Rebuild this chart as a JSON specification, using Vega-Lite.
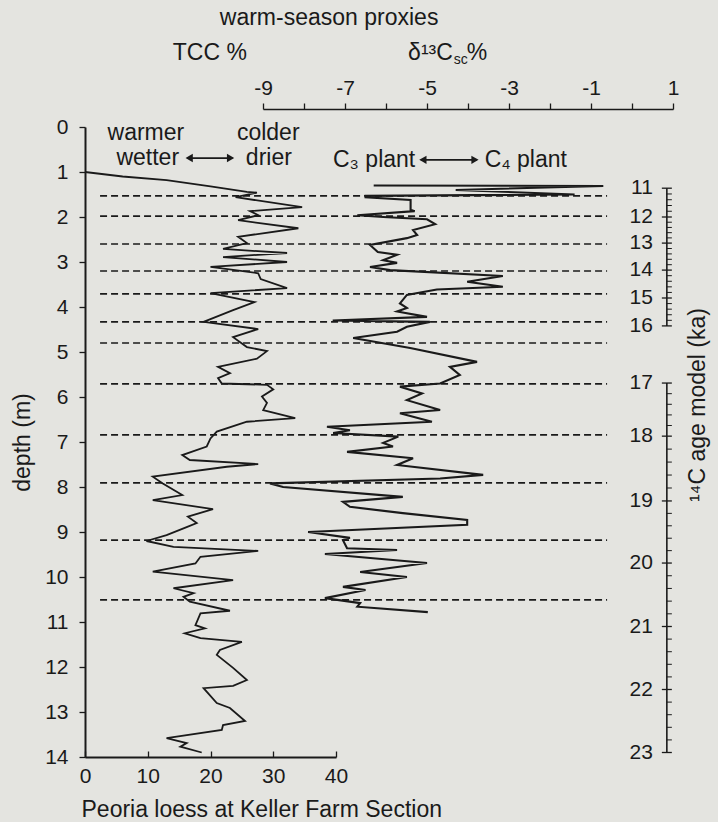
{
  "$schema": "https://vega.github.io/schema/vega-lite/v6.json",
  "autosize": "none",
  "width": 633,
  "height": 630,
  "padding": {"left": 85, "top": 127, "right": 0, "bottom": 65},
  "background": "#e4e4e0",
  "config": {
    "view": {"stroke": null},
    "font": "Liberation Sans",
    "axis": {"labelFont": "Liberation Sans", "titleFont": "Liberation Sans", "labelColor": "#1a1a1a", "titleColor": "#1a1a1a", "domainColor": "#1a1a1a", "tickColor": "#1a1a1a", "grid": false, "labelFontSize": 21, "titleFontSize": 23, "titleFontWeight": "normal", "domainWidth": 1.6, "tickWidth": 1.3, "labelFlush": false, "labelOverlap": false},
    "text": {"font": "Liberation Sans", "fontSize": 23, "color": "#1a1a1a"}
  },
  "datasets": {
    "tcc": [
      {"tcc": 0, "depth": 1.0}, {"tcc": 6, "depth": 1.1}, {"tcc": 13, "depth": 1.18}, {"tcc": 20, "depth": 1.32}, {"tcc": 25.8, "depth": 1.44}, {"tcc": 27.4, "depth": 1.46}, {"tcc": 24, "depth": 1.56}, {"tcc": 34.6, "depth": 1.78}, {"tcc": 26.3, "depth": 1.87}, {"tcc": 27.6, "depth": 1.96}, {"tcc": 24.4, "depth": 2.07}, {"tcc": 34, "depth": 2.25}, {"tcc": 24.4, "depth": 2.44}, {"tcc": 25.8, "depth": 2.58}, {"tcc": 22, "depth": 2.71}, {"tcc": 32.2, "depth": 2.8}, {"tcc": 22, "depth": 2.89}, {"tcc": 32.2, "depth": 3.0}, {"tcc": 20, "depth": 3.11}, {"tcc": 27.6, "depth": 3.25}, {"tcc": 28, "depth": 3.38}, {"tcc": 32.2, "depth": 3.58}, {"tcc": 20, "depth": 3.69}, {"tcc": 27, "depth": 3.89}, {"tcc": 23.6, "depth": 4.07}, {"tcc": 18.9, "depth": 4.33}, {"tcc": 27.6, "depth": 4.49}, {"tcc": 23.6, "depth": 4.67}, {"tcc": 25.8, "depth": 4.89}, {"tcc": 29, "depth": 4.98}, {"tcc": 27.4, "depth": 5.15}, {"tcc": 21.2, "depth": 5.33}, {"tcc": 23.1, "depth": 5.47}, {"tcc": 21.2, "depth": 5.58}, {"tcc": 21.8, "depth": 5.7}, {"tcc": 29, "depth": 5.73}, {"tcc": 30, "depth": 5.83}, {"tcc": 28.2, "depth": 5.99}, {"tcc": 29, "depth": 6.13}, {"tcc": 28.4, "depth": 6.29}, {"tcc": 33.5, "depth": 6.47}, {"tcc": 25.8, "depth": 6.55}, {"tcc": 21, "depth": 6.77}, {"tcc": 20, "depth": 6.92}, {"tcc": 19.4, "depth": 7.1}, {"tcc": 15.5, "depth": 7.29}, {"tcc": 16.7, "depth": 7.4}, {"tcc": 27.6, "depth": 7.49}, {"tcc": 22.6, "depth": 7.55}, {"tcc": 10.8, "depth": 7.77}, {"tcc": 12.4, "depth": 7.92}, {"tcc": 15.5, "depth": 8.18}, {"tcc": 10.8, "depth": 8.29}, {"tcc": 20.4, "depth": 8.49}, {"tcc": 16.4, "depth": 8.66}, {"tcc": 17.8, "depth": 8.8}, {"tcc": 16.2, "depth": 8.89}, {"tcc": 13, "depth": 9.07}, {"tcc": 9.8, "depth": 9.2}, {"tcc": 14.1, "depth": 9.33}, {"tcc": 27.6, "depth": 9.42}, {"tcc": 18.4, "depth": 9.55}, {"tcc": 17.6, "depth": 9.7}, {"tcc": 10.8, "depth": 9.88}, {"tcc": 23.6, "depth": 10.07}, {"tcc": 14.1, "depth": 10.25}, {"tcc": 17.3, "depth": 10.36}, {"tcc": 15.7, "depth": 10.44}, {"tcc": 16.7, "depth": 10.55}, {"tcc": 23.1, "depth": 10.75}, {"tcc": 18.4, "depth": 10.81}, {"tcc": 17.6, "depth": 11.07}, {"tcc": 19.1, "depth": 11.14}, {"tcc": 15.9, "depth": 11.25}, {"tcc": 18.4, "depth": 11.36}, {"tcc": 25, "depth": 11.44}, {"tcc": 21.5, "depth": 11.62}, {"tcc": 21, "depth": 11.73}, {"tcc": 23.6, "depth": 12.02}, {"tcc": 25.8, "depth": 12.29}, {"tcc": 23.6, "depth": 12.42}, {"tcc": 18.9, "depth": 12.47}, {"tcc": 21, "depth": 12.8}, {"tcc": 23.1, "depth": 12.91}, {"tcc": 25.5, "depth": 13.2}, {"tcc": 22, "depth": 13.29}, {"tcc": 21.8, "depth": 13.4}, {"tcc": 13, "depth": 13.58}, {"tcc": 16.2, "depth": 13.69}, {"tcc": 15.2, "depth": 13.77}, {"tcc": 18.6, "depth": 13.9}
    ],
    "d13c": [
      {"d13c": -6.3, "depth": 1.30}, {"d13c": -0.7, "depth": 1.31}, {"d13c": -4.3, "depth": 1.40}, {"d13c": -1.4, "depth": 1.50}, {"d13c": -6.5, "depth": 1.53}, {"d13c": -6.5, "depth": 1.56}, {"d13c": -5.4, "depth": 1.62}, {"d13c": -5.4, "depth": 1.84}, {"d13c": -5.3, "depth": 1.87}, {"d13c": -6.7, "depth": 1.96}, {"d13c": -6.07, "depth": 2.0}, {"d13c": -5.0, "depth": 2.05}, {"d13c": -4.8, "depth": 2.16}, {"d13c": -5.34, "depth": 2.29}, {"d13c": -5.24, "depth": 2.4}, {"d13c": -5.49, "depth": 2.47}, {"d13c": -6.39, "depth": 2.62}, {"d13c": -6.2, "depth": 2.78}, {"d13c": -5.73, "depth": 2.84}, {"d13c": -6.07, "depth": 2.96}, {"d13c": -5.73, "depth": 3.02}, {"d13c": -6.39, "depth": 3.11}, {"d13c": -5.9, "depth": 3.18}, {"d13c": -3.15, "depth": 3.31}, {"d13c": -4.02, "depth": 3.44}, {"d13c": -3.15, "depth": 3.55}, {"d13c": -4.76, "depth": 3.61}, {"d13c": -5.49, "depth": 3.73}, {"d13c": -5.66, "depth": 3.92}, {"d13c": -5.49, "depth": 4.02}, {"d13c": -5.73, "depth": 4.1}, {"d13c": -5.0, "depth": 4.22}, {"d13c": -7.3, "depth": 4.3}, {"d13c": -4.93, "depth": 4.33}, {"d13c": -5.49, "depth": 4.44}, {"d13c": -5.73, "depth": 4.55}, {"d13c": -6.8, "depth": 4.69}, {"d13c": -5.41, "depth": 4.91}, {"d13c": -3.78, "depth": 5.22}, {"d13c": -4.44, "depth": 5.33}, {"d13c": -4.2, "depth": 5.51}, {"d13c": -4.68, "depth": 5.7}, {"d13c": -5.66, "depth": 5.77}, {"d13c": -5.12, "depth": 5.92}, {"d13c": -5.49, "depth": 6.07}, {"d13c": -4.68, "depth": 6.29}, {"d13c": -5.66, "depth": 6.36}, {"d13c": -4.88, "depth": 6.55}, {"d13c": -7.44, "depth": 6.66}, {"d13c": -6.88, "depth": 6.74}, {"d13c": -7.29, "depth": 6.8}, {"d13c": -5.7, "depth": 6.88}, {"d13c": -6.07, "depth": 7.02}, {"d13c": -5.83, "depth": 7.1}, {"d13c": -6.95, "depth": 7.22}, {"d13c": -5.34, "depth": 7.36}, {"d13c": -5.73, "depth": 7.51}, {"d13c": -3.63, "depth": 7.73}, {"d13c": -4.68, "depth": 7.81}, {"d13c": -8.83, "depth": 7.92}, {"d13c": -8.51, "depth": 8.0}, {"d13c": -5.59, "depth": 8.22}, {"d13c": -7.05, "depth": 8.33}, {"d13c": -6.88, "depth": 8.44}, {"d13c": -5.59, "depth": 8.58}, {"d13c": -4.02, "depth": 8.73}, {"d13c": -4.02, "depth": 8.84}, {"d13c": -7.9, "depth": 9.0}, {"d13c": -6.88, "depth": 9.13}, {"d13c": -7.05, "depth": 9.18}, {"d13c": -6.95, "depth": 9.36}, {"d13c": -5.73, "depth": 9.4}, {"d13c": -7.49, "depth": 9.49}, {"d13c": -5.0, "depth": 9.69}, {"d13c": -6.63, "depth": 9.89}, {"d13c": -5.49, "depth": 10.0}, {"d13c": -7.05, "depth": 10.22}, {"d13c": -6.5, "depth": 10.29}, {"d13c": -7.49, "depth": 10.47}, {"d13c": -6.63, "depth": 10.58}, {"d13c": -6.7, "depth": 10.66}, {"d13c": -4.98, "depth": 10.78}
    ],
    "dashes": [
      {"depth": 1.53}, {"depth": 1.98}, {"depth": 2.6}, {"depth": 3.2}, {"depth": 3.71}, {"depth": 4.33}, {"depth": 4.8}, {"depth": 5.71}, {"depth": 6.84}, {"depth": 7.91}, {"depth": 9.18}, {"depth": 10.51}
    ],
    "ageSegments": [
      {"top": 1.36, "bottom": 4.42}, {"top": 5.69, "bottom": 13.9}
    ],
    "ageMajor": [
      {"age": 11, "depth": 1.36}, {"age": 12, "depth": 2.0}, {"age": 13, "depth": 2.58}, {"age": 14, "depth": 3.18}, {"age": 15, "depth": 3.8}, {"age": 16, "depth": 4.42}, {"age": 17, "depth": 5.69}, {"age": 18, "depth": 6.87}, {"age": 19, "depth": 8.31}, {"age": 20, "depth": 9.69}, {"age": 21, "depth": 11.1}, {"age": 22, "depth": 12.5}, {"age": 23, "depth": 13.9}
    ],
    "ageMinor": [
      {"depth": 1.488}, {"depth": 1.616}, {"depth": 1.744}, {"depth": 1.872},
      {"depth": 2.116}, {"depth": 2.232}, {"depth": 2.348}, {"depth": 2.464},
      {"depth": 2.70}, {"depth": 2.82}, {"depth": 2.94}, {"depth": 3.06},
      {"depth": 3.304}, {"depth": 3.428}, {"depth": 3.552}, {"depth": 3.676},
      {"depth": 3.924}, {"depth": 4.048}, {"depth": 4.172}, {"depth": 4.296},
      {"depth": 5.926}, {"depth": 6.162}, {"depth": 6.398}, {"depth": 6.634},
      {"depth": 7.158}, {"depth": 7.446}, {"depth": 7.734}, {"depth": 8.022},
      {"depth": 8.586}, {"depth": 8.862}, {"depth": 9.138}, {"depth": 9.414},
      {"depth": 9.972}, {"depth": 10.254}, {"depth": 10.536}, {"depth": 10.818},
      {"depth": 11.38}, {"depth": 11.66}, {"depth": 11.94}, {"depth": 12.22},
      {"depth": 12.78}, {"depth": 13.06}, {"depth": 13.34}, {"depth": 13.62}
    ],
    "one": [{"n": 1}]
  },
  "resolve": {"scale": {"x": "independent"}, "axis": {"x": "independent"}},
  "layer": [
    {
      "data": {"name": "dashes"},
      "mark": {"type": "rule", "color": "#1a1a1a", "strokeWidth": 1.7, "strokeDash": [7, 4]},
      "encoding": {
        "x": {"datum": 2.4, "type": "quantitative", "scale": {"domain": [0, 40], "range": [0, 251]}, "axis": null},
        "x2": {"datum": 83.2},
        "y": {"field": "depth", "type": "quantitative", "scale": {"domain": [0, 14], "range": [0, 630]}}
      }
    },
    {
      "data": {"name": "tcc"},
      "mark": {"type": "line", "color": "#1a1a1a", "strokeWidth": 1.8},
      "encoding": {
        "x": {"field": "tcc", "type": "quantitative", "scale": {"domain": [0, 40], "range": [0, 251]},
          "axis": {"orient": "bottom", "values": [0, 10, 20, 30, 40], "tickSize": -6, "labelPadding": 14, "domainWidth": 2, "title": "Peoria loess at Keller Farm Section", "titleAnchor": "start", "titleAlign": "left", "titleX": -4, "titleY": 41, "titleBaseline": "top"}},
        "y": {"field": "depth", "type": "quantitative", "scale": {"domain": [0, 14], "range": [0, 630]},
          "axis": {"orient": "left", "values": [0, 1, 2, 3, 4, 5, 6, 7, 8, 9, 10, 11, 12, 13, 14], "tickSize": 6, "labelPadding": 11, "domainWidth": 2, "title": "depth (m)", "titlePadding": 10}},
        "order": {"field": "depth"}
      }
    },
    {
      "data": {"name": "d13c"},
      "mark": {"type": "line", "color": "#1a1a1a", "strokeWidth": 2.1},
      "encoding": {
        "x": {"field": "d13c", "type": "quantitative", "scale": {"domain": [-9, 1], "range": [178, 588]},
          "axis": {"orient": "top", "values": [-9, -8, -7, -6, -5, -4, -3, -2, -1, 0, 1], "labelExpr": "datum.value % 2 != 0 ? '' + datum.value : ''", "offset": 18, "tickSize": 6, "labelPadding": 5, "domainWidth": 1.5, "title": null}},
        "y": {"field": "depth", "type": "quantitative", "scale": {"domain": [0, 14], "range": [0, 630]}},
        "order": {"field": "depth"}
      }
    },
    {
      "data": {"name": "ageSegments"},
      "mark": {"type": "rule", "color": "#1a1a1a", "strokeWidth": 1.6},
      "encoding": {
        "x": {"datum": 0.85, "type": "quantitative", "scale": {"domain": [-9, 1], "range": [178, 588]}, "axis": null},
        "y": {"field": "top", "type": "quantitative", "scale": {"domain": [0, 14], "range": [0, 630]}},
        "y2": {"field": "bottom"}
      }
    },
    {
      "data": {"name": "ageMajor"},
      "mark": {"type": "tick", "orient": "horizontal", "color": "#1a1a1a", "size": 10, "thickness": 1.3, "opacity": 1},
      "encoding": {
        "x": {"datum": 0.85, "type": "quantitative", "scale": {"domain": [-9, 1], "range": [178, 588]}, "axis": null},
        "y": {"field": "depth", "type": "quantitative", "scale": {"domain": [0, 14], "range": [0, 630]}}
      }
    },
    {
      "data": {"name": "ageMinor"},
      "mark": {"type": "tick", "orient": "horizontal", "color": "#1a1a1a", "size": 5, "thickness": 1, "xOffset": 2.5, "opacity": 1},
      "encoding": {
        "x": {"datum": 0.85, "type": "quantitative", "scale": {"domain": [-9, 1], "range": [178, 588]}, "axis": null},
        "y": {"field": "depth", "type": "quantitative", "scale": {"domain": [0, 14], "range": [0, 630]}}
      }
    },
    {
      "data": {"name": "ageMajor"},
      "mark": {"type": "text", "align": "right", "baseline": "middle", "dx": -14, "fontSize": 21},
      "encoding": {
        "x": {"datum": 0.85, "type": "quantitative", "scale": {"domain": [-9, 1], "range": [178, 588]}, "axis": null},
        "y": {"field": "depth", "type": "quantitative", "scale": {"domain": [0, 14], "range": [0, 630]}},
        "text": {"field": "age"}
      }
    },
    {
      "data": {"name": "one"},
      "mark": {"type": "text", "align": "center", "baseline": "middle", "angle": 270, "text": "¹⁴C age model (ka)"},
      "encoding": {
        "x": {"datum": 1.61, "type": "quantitative", "scale": {"domain": [-9, 1], "range": [178, 588]}, "axis": null},
        "y": {"datum": 6.18, "type": "quantitative", "scale": {"domain": [0, 14], "range": [0, 630]}}
      }
    },
    {
      "data": {"name": "one"},
      "mark": {"type": "text", "align": "center", "baseline": "middle", "text": "C₃ plant"},
      "encoding": {
        "x": {"datum": -6.29, "type": "quantitative", "scale": {"domain": [-9, 1], "range": [178, 588]}, "axis": null},
        "y": {"datum": 0.73, "type": "quantitative", "scale": {"domain": [0, 14], "range": [0, 630]}}
      }
    },
    {
      "data": {"name": "one"},
      "mark": {"type": "rule", "color": "#1a1a1a", "strokeWidth": 1.8},
      "encoding": {
        "x": {"datum": -5.15, "type": "quantitative", "scale": {"domain": [-9, 1], "range": [178, 588]}, "axis": null},
        "x2": {"datum": -3.78},
        "y": {"datum": 0.73, "type": "quantitative", "scale": {"domain": [0, 14], "range": [0, 630]}}
      }
    },
    {
      "data": {"name": "one"},
      "mark": {"type": "point", "shape": "triangle-left", "filled": true, "color": "#1a1a1a", "size": 70, "opacity": 1},
      "encoding": {
        "x": {"datum": -5.1, "type": "quantitative", "scale": {"domain": [-9, 1], "range": [178, 588]}, "axis": null},
        "y": {"datum": 0.73, "type": "quantitative", "scale": {"domain": [0, 14], "range": [0, 630]}}
      }
    },
    {
      "data": {"name": "one"},
      "mark": {"type": "point", "shape": "triangle-right", "filled": true, "color": "#1a1a1a", "size": 70, "opacity": 1},
      "encoding": {
        "x": {"datum": -3.83, "type": "quantitative", "scale": {"domain": [-9, 1], "range": [178, 588]}, "axis": null},
        "y": {"datum": 0.73, "type": "quantitative", "scale": {"domain": [0, 14], "range": [0, 630]}}
      }
    },
    {
      "data": {"name": "one"},
      "mark": {"type": "text", "align": "center", "baseline": "middle", "text": "C₄ plant"},
      "encoding": {
        "x": {"datum": -2.59, "type": "quantitative", "scale": {"domain": [-9, 1], "range": [178, 588]}, "axis": null},
        "y": {"datum": 0.73, "type": "quantitative", "scale": {"domain": [0, 14], "range": [0, 630]}}
      }
    },
    {
      "data": {"name": "one"},
      "mark": {"type": "text", "align": "right", "baseline": "middle", "text": "δ¹³C"},
      "encoding": {
        "x": {"datum": -4.37, "type": "quantitative", "scale": {"domain": [-9, 1], "range": [178, 588]}, "axis": null},
        "y": {"datum": -1.64, "type": "quantitative", "scale": {"domain": [0, 14], "range": [0, 630]}}
      }
    },
    {
      "data": {"name": "one"},
      "mark": {"type": "text", "align": "left", "baseline": "middle", "dy": 7, "fontSize": 14, "text": "sc"},
      "encoding": {
        "x": {"datum": -4.35, "type": "quantitative", "scale": {"domain": [-9, 1], "range": [178, 588]}, "axis": null},
        "y": {"datum": -1.64, "type": "quantitative", "scale": {"domain": [0, 14], "range": [0, 630]}}
      }
    },
    {
      "data": {"name": "one"},
      "mark": {"type": "text", "align": "left", "baseline": "middle", "text": "%"},
      "encoding": {
        "x": {"datum": -4.03, "type": "quantitative", "scale": {"domain": [-9, 1], "range": [178, 588]}, "axis": null},
        "y": {"datum": -1.64, "type": "quantitative", "scale": {"domain": [0, 14], "range": [0, 630]}}
      }
    },
    {
      "data": {"name": "one"},
      "mark": {"type": "text", "align": "center", "baseline": "middle", "text": "warm-season proxies"},
      "encoding": {
        "x": {"datum": 38.9, "type": "quantitative", "scale": {"domain": [0, 40], "range": [0, 251]}, "axis": null},
        "y": {"datum": -2.42, "type": "quantitative", "scale": {"domain": [0, 14], "range": [0, 630]}}
      }
    },
    {
      "data": {"name": "one"},
      "mark": {"type": "text", "align": "center", "baseline": "middle", "text": "TCC %"},
      "encoding": {
        "x": {"datum": 19.9, "type": "quantitative", "scale": {"domain": [0, 40], "range": [0, 251]}, "axis": null},
        "y": {"datum": -1.64, "type": "quantitative", "scale": {"domain": [0, 14], "range": [0, 630]}}
      }
    },
    {
      "data": {"name": "one"},
      "mark": {"type": "text", "align": "center", "baseline": "middle", "text": "warmer"},
      "encoding": {
        "x": {"datum": 9.7, "type": "quantitative", "scale": {"domain": [0, 40], "range": [0, 251]}, "axis": null},
        "y": {"datum": 0.13, "type": "quantitative", "scale": {"domain": [0, 14], "range": [0, 630]}}
      }
    },
    {
      "data": {"name": "one"},
      "mark": {"type": "text", "align": "center", "baseline": "middle", "text": "wetter"},
      "encoding": {
        "x": {"datum": 10.0, "type": "quantitative", "scale": {"domain": [0, 40], "range": [0, 251]}, "axis": null},
        "y": {"datum": 0.69, "type": "quantitative", "scale": {"domain": [0, 14], "range": [0, 630]}}
      }
    },
    {
      "data": {"name": "one"},
      "mark": {"type": "rule", "color": "#1a1a1a", "strokeWidth": 1.8},
      "encoding": {
        "x": {"datum": 16.3, "type": "quantitative", "scale": {"domain": [0, 40], "range": [0, 251]}, "axis": null},
        "x2": {"datum": 23.5},
        "y": {"datum": 0.69, "type": "quantitative", "scale": {"domain": [0, 14], "range": [0, 630]}}
      }
    },
    {
      "data": {"name": "one"},
      "mark": {"type": "point", "shape": "triangle-left", "filled": true, "color": "#1a1a1a", "size": 70, "opacity": 1},
      "encoding": {
        "x": {"datum": 16.6, "type": "quantitative", "scale": {"domain": [0, 40], "range": [0, 251]}, "axis": null},
        "y": {"datum": 0.69, "type": "quantitative", "scale": {"domain": [0, 14], "range": [0, 630]}}
      }
    },
    {
      "data": {"name": "one"},
      "mark": {"type": "point", "shape": "triangle-right", "filled": true, "color": "#1a1a1a", "size": 70, "opacity": 1},
      "encoding": {
        "x": {"datum": 23.2, "type": "quantitative", "scale": {"domain": [0, 40], "range": [0, 251]}, "axis": null},
        "y": {"datum": 0.69, "type": "quantitative", "scale": {"domain": [0, 14], "range": [0, 630]}}
      }
    },
    {
      "data": {"name": "one"},
      "mark": {"type": "text", "align": "center", "baseline": "middle", "text": "colder"},
      "encoding": {
        "x": {"datum": 29.2, "type": "quantitative", "scale": {"domain": [0, 40], "range": [0, 251]}, "axis": null},
        "y": {"datum": 0.13, "type": "quantitative", "scale": {"domain": [0, 14], "range": [0, 630]}}
      }
    },
    {
      "data": {"name": "one"},
      "mark": {"type": "text", "align": "center", "baseline": "middle", "text": "drier"},
      "encoding": {
        "x": {"datum": 29.3, "type": "quantitative", "scale": {"domain": [0, 40], "range": [0, 251]}, "axis": null},
        "y": {"datum": -0.0 , "type": "quantitative", "scale": {"domain": [0, 14], "range": [0, 630]}},
        "yOffset": {"value": 31}
      }
    }
  ]
}
